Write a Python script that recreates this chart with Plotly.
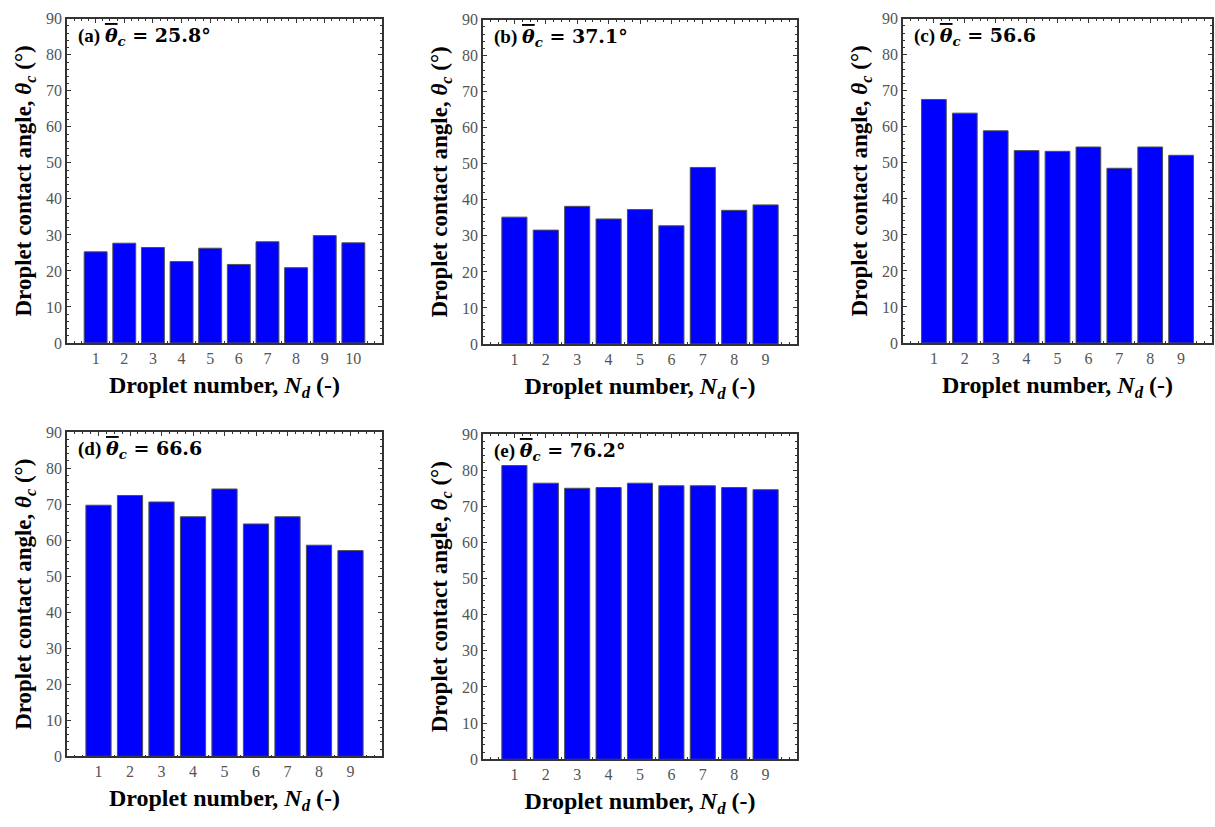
import plotly.graph_objects as go

# Contact angle of each droplet (degrees) for the five surfaces
angles_a = [25.3, 27.7, 26.5, 22.6, 26.3, 21.8, 28.1, 20.9, 29.8, 27.8]
angles_b = [35.2, 31.6, 38.2, 34.7, 37.3, 32.8, 49.0, 37.1, 38.6]
angles_c = [67.6, 63.8, 58.9, 53.4, 53.2, 54.4, 48.5, 54.4, 52.1]
angles_d = [69.7, 72.4, 70.6, 66.5, 74.2, 64.5, 66.5, 58.6, 57.1]
angles_e = [81.3, 76.4, 75.0, 75.2, 76.4, 75.7, 75.7, 75.2, 74.6]

panel_labels = ["(a)", "(b)", "(c)", "(d)", "(e)"]
mean_texts = ["25.8°", "37.1°", "56.6", "66.6", "76.2°"]

W, H = 1215, 827
# plot-area boxes in pixels: (left, top, right, bottom)
boxes = [
    (67, 11, 382, 342),
    (483, 12, 797, 343),
    (903, 11, 1212, 342),
    (67, 433, 382, 764),
    (483, 435, 797, 767),
]

series = [angles_a, angles_b, angles_c, angles_d, angles_e]

fig = go.Figure()
serif = "Liberation Serif, Times New Roman, serif"
math = "DejaVu Serif, serif"
frame_col = "#333333"
tick_col = "#555555"

# mean contact angle symbol: theta with an overbar
theta_bar = f"<span style='font-family:{math};text-decoration:overline'><i>θ</i></span>"

for i, (vals, box) in enumerate(zip(series, boxes)):
    n = i + 1
    xa = "x" if n == 1 else f"x{n}"
    ya = "y" if n == 1 else f"y{n}"
    drops = list(range(1, len(vals) + 1))
    fig.add_trace(go.Bar(
        x=drops, y=vals, xaxis=xa, yaxis=ya, width=0.8,
        marker=dict(color="#0000FF", line=dict(color="#505050", width=1)),
        showlegend=False,
    ))
    l, t, r, b = box
    xdom = [l / W, r / W]
    ydom = [1 - b / H, 1 - t / H]
    axis_common = dict(
        showline=True, linecolor=frame_col, linewidth=1.5, mirror="allticks",
        ticks="inside", ticklen=4, tickwidth=1.2, tickcolor=frame_col,
        showgrid=False, zeroline=False, layer="below traces",
        tickfont=dict(family=serif, size=16, color=tick_col),
    )
    xkey = "xaxis" if n == 1 else f"xaxis{n}"
    ykey = "yaxis" if n == 1 else f"yaxis{n}"
    fig.update_layout({
        xkey: dict(
            axis_common, domain=xdom, anchor=ya,
            range=[0, len(vals) + 1], tickmode="array", tickvals=drops,
            minor=dict(dtick=0.25, tick0=0, ticks="inside", ticklen=2,
                       tickcolor=frame_col, tickwidth=1),
            title=dict(text="<b>Droplet number, <i>N<sub>d</sub></i> (-)</b>",
                       font=dict(family=serif, size=24, color="black"),
                       standoff=10),
        ),
        ykey: dict(
            axis_common, domain=ydom, anchor=xa,
            range=[0, 90], dtick=10, tick0=0,
            minor=dict(dtick=2, tick0=0, ticks="inside", ticklen=2,
                       tickcolor=frame_col, tickwidth=1),
            title=dict(text="<b>Droplet contact angle, <i>θ<sub>c</sub></i> (°)</b>",
                       font=dict(family=serif, size=23, color="black"),
                       standoff=8),
        ),
    })
    fig.add_annotation(
        xref=f"{xa} domain", yref=f"{ya} domain", x=0.03, y=0.99,
        xanchor="left", yanchor="top", showarrow=False,
        text=(f"<b>{panel_labels[i]} {theta_bar}"
              f"<span style='font-family:{math}'><i><sub>c</sub></i> "
              f"= {mean_texts[i]}</span></b>"),
        font=dict(family=serif, size=19, color="black"),
    )

fig.update_layout(
    width=W, height=H, margin=dict(l=0, r=0, t=0, b=0),
    paper_bgcolor="white", plot_bgcolor="white", bargap=0.2,
)

fig.write_html("out.html")
